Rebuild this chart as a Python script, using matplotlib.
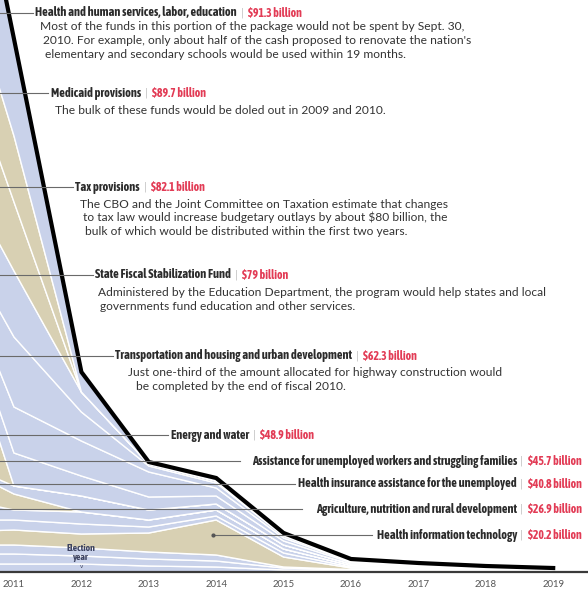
import numpy as np
import matplotlib

matplotlib.use("Agg")
import matplotlib.pyplot as plt
from matplotlib import font_manager as fm
from matplotlib.font_manager import FontProperties

# ---- data (spending layers, bottom -> top; one value per year) ----
years = [2010, 2011, 2012, 2013, 2014, 2015, 2016, 2017, 2018, 2019]
tick_years = [2011, 2012, 2013, 2014, 2015, 2016, 2017, 2018, 2019]

layers = [
    [8, 8, 8, 6, 5, 2, 1, 1, 0.8, 0.6],
    [10, 10, 8, 7, 6, 2, 1, 0.6, 0.5, 0.4],
    [9, 9, 8, 7, 6, 1, 0.5, 0.4, 0.3, 0.2],
    [13, 15, 14, 19, 35, 10, 1.5, 1, 0.6, 0.4],   # health IT
    [12, 10, 10, 6, 4, 4, 1, 0.6, 0.4, 0.3],
    [24, 10, 12, 7, 6, 4, 1.5, 0.9, 0.6, 0.4],
    [36, 16, 0, 0, 0, 0, 0, 0, 0, 0],
    [3, 8, 16, 10, 6, 4, 1.5, 1, 0.6, 0.4],
    [178, 0, 0, 0, 0, 0, 0, 0, 0, 0],
    [23, 33, 20, 13, 8, 4, 1.5, 1, 0.6, 0.4],
    [17, 46, 35, 25, 8, 3, 1, 0.8, 0.5, 0.3],
    [22, 70, 29, 6, 5, 2, 1, 0.7, 0.5, 0.3],
    [71, 66, 20, 2, 2, 1, 0.5, 0.4, 0.3, 0.2],
    [136, 69, 0, 0, 0, 0, 0, 0, 0, 0],            # tax provisions
    [95, 66, 0, 0, 0, 0, 0, 0, 0, 0],             # medicaid
    [208, 97, 20, 2, 3, 2, 1, 0.6, 0.3, 0.1],     # health and human services
]
layer_kind = ["b", "b", "b", "t", "b", "b", "t", "b", "t", "b", "b", "b", "b", "t", "t", "b"]

labels = [
    "Health and human services, labor, education",
    "Medicaid provisions",
    "Tax provisions",
    "State Fiscal Stabilization Fund",
    "Transportation and housing and urban development",
    "Energy and water",
    "Assistance for unemployed workers and struggling families",
    "Health insurance assistance for the unemployed",
    "Agriculture, nutrition and rural development",
    "Health information technology",
]
amounts = ["$91.3 billion", "$89.7 billion", "$82.1 billion", "$79 billion",
           "$62.3 billion", "$48.9 billion", "$45.7 billion", "$40.8 billion",
           "$26.9 billion", "$20.2 billion"]
notes = [
    ["Most of the funds in this portion of the package would not be spent by Sept. 30,",
     "2010. For example, only about half of the cash proposed to renovate the nation's",
     "elementary and secondary schools would be used within 19 months."],
    ["The bulk of these funds would be doled out in 2009 and 2010."],
    ["The CBO and the Joint Committee on Taxation estimate that changes",
     "to tax law would increase budgetary outlays by about $80 billion, the",
     "bulk of which would be distributed within the first two years."],
    ["Administered by the Education Department, the program would help states and local",
     "governments fund education and other services."],
    ["Just one-third of the amount allocated for highway construction would",
     "be completed by the end of fiscal 2010."],
    [], [], [], [], [],
]

BLUE = "#c9d2ea"
TAN = "#d8d0b3"
RED = "#e23b55"
INK = "#2b2b2b"


def pick_narrow_bold():
    rank = {"condensed": 0, "extra-condensed": 1, "semi-condensed": 2}
    best = None
    for f in fm.fontManager.ttflist:
        w = f.weight if isinstance(f.weight, int) else {"bold": 700, "semibold": 600,
                                                        "demibold": 600, "heavy": 800}.get(str(f.weight), 400)
        if w < 600 or w > 750 or f.style != "normal":
            continue
        st = str(f.stretch)
        if "Narrow" in f.name or "Condensed" in f.name:
            r = 0
        elif st in rank:
            r = rank[st]
        else:
            continue
        key = (r, abs(w - 700), f.name)
        if best is None or key < best[0]:
            best = (key, f.fname)
    if best is None:
        return FontProperties(family="DejaVu Sans", weight="bold")
    return FontProperties(fname=best[1])


names = {f.name for f in fm.fontManager.ttflist}
head_fp = pick_narrow_bold()
note_family = "Lato" if "Lato" in names else "DejaVu Sans"

W, H = 588, 593
fig = plt.figure(figsize=(W / 100, H / 100), dpi=100)
fig.patch.set_facecolor("white")

# chart axes: 1 data unit = 1 px vertically, 2011 tick at x=14 px, 67.4 px per year
ax = fig.add_axes([0, 21 / H, 1, 572 / H])
ax.set_xlim(2011 - 14 / 67.4, 2011 + 574 / 67.4)
ax.set_ylim(0, 572)

x = np.array(years, dtype=float)
data = np.array(layers, dtype=float)
cols = [BLUE if k == "b" else TAN for k in layer_kind]
ax.stackplot(x, data, colors=cols, edgecolor="white", linewidth=1.0)
ax.plot(x, data.sum(axis=0), color="black", lw=3.0, solid_joinstyle="miter", zorder=5)

for s in ["top", "left", "right"]:
    ax.spines[s].set_visible(False)
ax.spines["bottom"].set_color("#3a3a3a")
ax.spines["bottom"].set_linewidth(1.6)
ax.spines["bottom"].set_zorder(6)
ax.set_yticks([])
ax.set_xticks(tick_years)
ax.set_xticklabels([str(y) for y in tick_years], color="#555555", fontsize=6.9,
                   family=note_family)
ax.tick_params(axis="x", length=0, pad=6)

# overlay in pixel coordinates for annotations
ov = fig.add_axes([0, 0, 1, 1])
ov.set_xlim(0, W)
ov.set_ylim(H, 0)
ov.axis("off")
ov.patch.set_alpha(0)
renderer = fig.canvas.get_renderer()

# size the fonts so the first header / first note line get the reference widths
probe_fp = head_fp.copy()
probe_fp.set_size(10)
t = ov.text(0, 0, labels[0], fontproperties=probe_fp)
head_size = 10 * 200 / t.get_window_extent(renderer).width
t.remove()
head_size = min(head_size, 9.5)
t = ov.text(0, 0, notes[0][0], fontsize=10, family=note_family)
note_size = 10 * 422 / t.get_window_extent(renderer).width
t.remove()

hfp = head_fp.copy()
hfp.set_size(head_size)
rfp = hfp.copy()
rfp.set_size(head_size * 0.95)

head_y = [13, 93, 187, 275, 356, 435, 461, 484, 509, 535]
head_x = [35, 51, 75, 95, 115, 171, 582, 582, 582, 582]
lead_x = [(0, 33), (0, 48), (0, 73), (0, 93), (0, 113), (0, 168),
          (0, 240), (0, 295), (0, 302), (213, 372)]
note_x = [[40, 43, 45], [55], [80, 83, 85], [98, 100], [128, 136]]
note_y0 = [27, 110, 204, 293, 373]

for i, lab in enumerate(labels):
    y = head_y[i]
    x0, x1 = lead_x[i]
    ov.plot([x0, x1], [y, y], color="#6a6a6a", lw=0.8, zorder=3)
    if i == 9:
        ov.plot([x0], [y], "o", color="#555555", ms=2, zorder=3)
    if head_x[i] < 300:
        t = ov.text(head_x[i], y, lab, ha="left", va="center", color=INK,
                    fontproperties=hfp, zorder=4)
        xe = t.get_window_extent(renderer).x1
        ov.text(xe + 4, y, "|", ha="left", color="#c0c0c0", fontsize=7, va="center")
        ov.text(xe + 11, y, amounts[i], ha="left", va="center", color=RED,
                fontproperties=rfp, zorder=4)
    else:
        t = ov.text(head_x[i], y, amounts[i], ha="right", va="center", color=RED,
                    fontproperties=rfp, zorder=4)
        xs = t.get_window_extent(renderer).x0
        ov.text(xs - 5, y, "|", ha="right", color="#c0c0c0", fontsize=7, va="center")
        ov.text(xs - 11, y, lab, ha="right", va="center", color=INK,
                fontproperties=hfp, zorder=4)

for i, lines in enumerate(notes):
    for j, line in enumerate(lines):
        ov.text(note_x[i][j], note_y0[i] + 13.7 * j, line, ha="left", va="center",
                fontsize=note_size, color="#333333", family=note_family)

efp = head_fp.copy()
efp.set_size(7)
ov.text(81, 553, "Election\nyear", ha="center", va="center", fontproperties=efp,
        color="#3c4260", linespacing=0.9)
ov.text(81, 566, "v", ha="center", va="center", fontsize=4, color="#3c4260")

fig.savefig("out.png", dpi=100)
plt.close()
